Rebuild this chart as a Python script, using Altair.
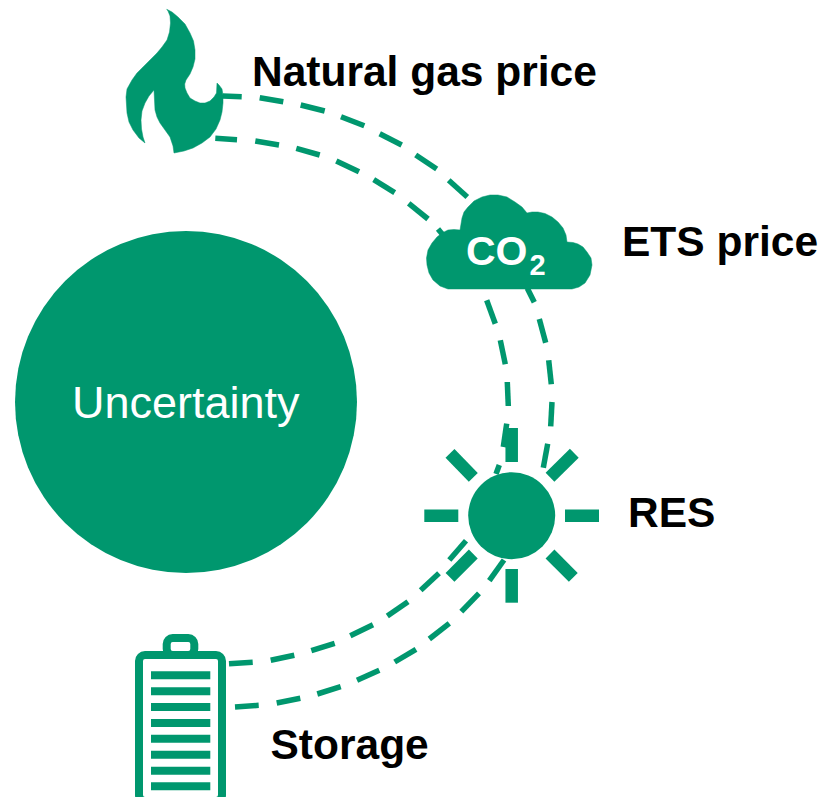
import altair as alt
import pandas as pd

GREEN = "#00976E"

# Dashes of the six connectors: x1, y1, x2, y2
gas_outer = [(222.7,96,241.7,96.7),(259.7,97.7,283.3,101.7),(300.7,105,324.7,111),(341,116.7,364.3,125.7),
             (379.7,133.7,401.7,145),(415.7,155,436.7,169),(448.7,180.3,467.3,197)]
gas_inner = [(215.3,138.3,237,139.7),(255.3,141,279,145),(296.3,148.3,319.7,155),(336.3,161,359,171.7),
             (373.7,179.7,394.7,192.7),(408.7,203.3,428,219),(438,229,443,235)]
co2_outer = [(527.3,288.3,534.3,302.3),(539.3,319,545.7,342.7),(548.7,360.3,551.3,384.3),
             (552,402,550.7,426.3),(547.7,443.7,543.3,467.7)]
co2_inner = [(486.7,300.3,495.3,323.7),(500.3,340.3,505.3,364.3),(507.3,382,508.3,406),
             (506.7,423.7,503.3,447),(499.3,465,496,474)]
sto_upper = [(229,663.7,252.7,662.3),(270.7,660.3,294.3,655.3),(311.3,650.7,334.7,643.3),(350.3,635.7,373,624.7),
             (387.3,616,408,601.7),(420.7,590.3,439,573.3),(449.3,560,466,540.7)]
sto_lower = [(235,707,258.7,705.3),(276.7,703,300.3,698.3),(317.3,694,340.7,686.7),(357,680.3,379.3,670.3),
             (394.7,662,416,649.3),(429.3,639,449.3,623.3),(461.3,611.7,479,593.3),(489.3,580.7,504,560)]
sun_rays = [(511.7,428,511.7,462),(511.7,569,511.7,602.7),(424.3,515.7,458.3,515.7),(565,515.7,599,515.7),
            (550,477.3,574.3,453.3),(473.3,477.3,450,453.3),(473.3,554,450,577.3),(550,554,573.3,577.3)]

flame_x = [166.7,172,178,185,190,193.5,195,195,193,190,186,184.7,185,187,190,195,200,205,210,214,216.5,217,219,222,223,223,222,220,216,210,202,193,184,174,
           173,170,165,160,157,155,154,154,149,145,142,141,141.5,143,145,139,133,129,127,126,127,132,137,143,150,157,162,167,169.5,170.5,170,168]
flame_y = [9.3,12,17,24,33,41,50,59,67,74,80,84,88,93,98,101,103,103,101,97,93,83,85,89,95,103,112,120,129,137,143,148,151,153,
           146,137,130,123,117,110,90,90,96,103,111,120,129,137,143,138,130,122,113,97,89,80,73,67,60,53,47,40,32,23,16,11]

cloud_x = [448,572,579,585,590,592,591,587,583,578,573,567,566,563,558,552,545,538,532,527,522,515,507,498,490,482,474,468,464,462,460,
           454,448,442,437,432,428,426.5,427,429,433,440]
cloud_y = [289,289,287,283,275,265,258,252,247,244,242.5,242,235,228,222,217,213.5,212,212,213,207,202,197,195,195,197,201,207,212,218,230,
           229.5,230,233,237,243,250,258,265,273,280,286]

bar_y = [675.3,691.3,707,723,738.7,754.7,770.7,786.3]

labels = ["Natural gas price", "ETS price", "RES", "Storage"]
label_x = [252, 622, 628, 270.5]
label_y = [86, 256, 527, 759]

xs = alt.Scale(domain=[8, 818], range=[0, 810], nice=False, zero=False)
ys = alt.Scale(domain=[797, 8], nice=False, zero=False)
X = lambda f="x": alt.X(f"{f}:Q", scale=xs, axis=None)
Y = lambda f="y": alt.Y(f"{f}:Q", scale=ys, axis=None)


def segments(rows):
    return pd.DataFrame(rows, columns=["x", "y", "x2", "y2"])


def rules(rows, width):
    return alt.Chart(segments(rows)).mark_rule(color=GREEN, strokeWidth=width, strokeCap="butt").encode(
        x=X(), y=Y(), x2="x2:Q", y2="y2:Q")


def polygon(px, py):
    df = pd.DataFrame({"x": px, "y": py, "i": range(len(px))})
    return alt.Chart(df).mark_line(fill=GREEN, stroke=GREEN, strokeWidth=0.5, interpolate="linear-closed").encode(
        x=X(), y=Y(), order="i:Q")


def disc(cx, cy, d):
    df = pd.DataFrame({"x": [cx], "y": [cy]})
    return alt.Chart(df).mark_point(filled=True, shape="circle", color=GREEN, opacity=1, size=d * d).encode(x=X(), y=Y())


def text(rows, size, color, weight):
    df = pd.DataFrame(rows, columns=["x", "y", "t"])
    return alt.Chart(df).mark_text(align="left", baseline="alphabetic", font="Liberation Sans", fontSize=size,
                                   fontWeight=weight, color=color).encode(x=X(), y=Y(), text="t:N")


def rrect(x, y, x2, y2, r):
    df = pd.DataFrame({"x": [x], "y": [y], "x2": [x2], "y2": [y2]})
    return alt.Chart(df).mark_rect(fill="white", stroke=GREEN, strokeWidth=8, cornerRadius=r).encode(
        x=X(), y=Y(), x2="x2:Q", y2="y2:Q")


bars = pd.DataFrame({"x": [151] * 8, "x2": [210.3] * 8, "y": [v - 4 for v in bar_y], "y2": [v + 4 for v in bar_y]})
bar_layer = alt.Chart(bars).mark_rect(fill=GREEN).encode(x=X(), y=Y(), x2="x2:Q", y2="y2:Q")

chart = alt.layer(
    rules(gas_outer, 5.5), rules(gas_inner, 5.5), rules(co2_outer, 5.5), rules(co2_inner, 5.5),
    rules(sto_upper, 5.5), rules(sto_lower, 5.5),
    rules(sun_rays, 12.5),
    disc(511.7, 515.7, 87),
    disc(186, 402, 342),
    polygon(flame_x, flame_y),
    polygon(cloud_x, cloud_y),
    rrect(166.7, 638, 194.3, 655, 6),
    rrect(139, 655, 222, 801, 6),
    bar_layer,
    text([(72, 418, "Uncertainty")], 45, "white", "normal"),
    text([(466, 265, "CO")], 41, "white", "bold"),
    text([(529.5, 274.5, "2")], 29, "white", "bold"),
    text(list(zip(label_x, label_y, labels)), 42.5, "black", "bold"),
).properties(width=810, height=789, padding=0, autosize=alt.AutoSizeParams(type="none")).configure_view(stroke=None)

chart.save("out.html", embed_options={"renderer": "svg", "actions": False})
